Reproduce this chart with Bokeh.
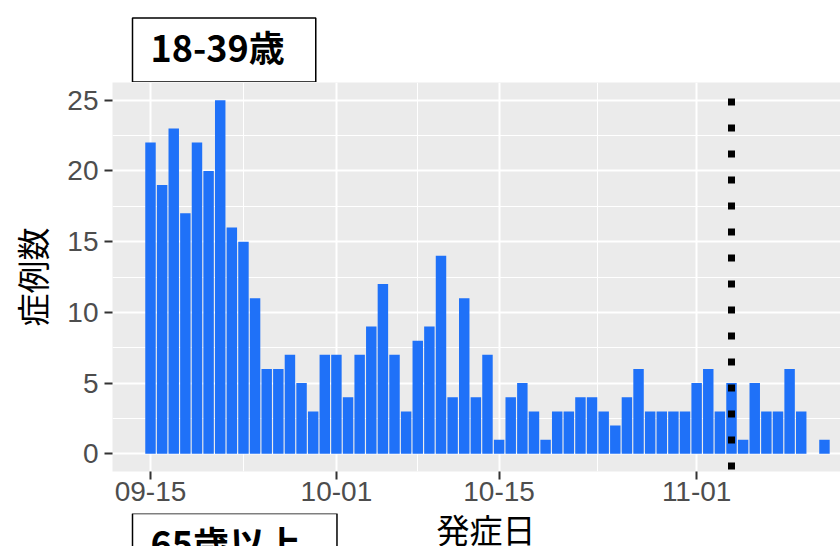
import pandas as pd
from bokeh.plotting import figure
from bokeh.layouts import column
from bokeh.models import Range1d, FixedTicker, DatetimeTickFormatter, Span, Label, ColumnDataSource
from bokeh.embed import file_html
from bokeh.resources import INLINE

# ---- data ----
start_date = "2021-09-15"
counts = [22, 19, 23, 17, 22, 20, 25, 16, 15, 11,
          6, 6, 7, 5, 3, 7, 7, 4, 7, 9,
          12, 7, 3, 8, 9, 14, 4, 11, 4, 7,
          1, 4, 5, 3, 1, 3, 3, 4, 4, 3,
          2, 4, 6, 3, 3, 3, 3, 5, 6, 3,
          5, 1, 5, 3, 3, 6, 3, 0, 1]
dates = pd.date_range(start_date, periods=len(counts), freq="D")
tick_dates = ["2021-09-15", "2021-10-01", "2021-10-15", "2021-11-01"]
tick_labels = ["09-15", "10-01", "10-15", "11-01"]
y_ticks = [0, 5, 10, 15, 20, 25]
vline_date = "2021-11-04"
panel_title = "18-39歳"
next_panel_title = "65歳以上"
x_title = "発症日"
y_title = "症例数"

DAY = 86400000.0
def ms(d):
    return pd.Timestamp(d).value / 1e6

t0 = ms(start_date)
src = ColumnDataSource(dict(x=[ms(d) for d in dates], top=counts))

CJK = "Noto Sans CJK JP"
LAT = "Liberation Sans"
W = 840
FRAME_L = 112
TOP_H, MAIN_H, BOT_H = 82, 431, 33


def strip(h):
    # frame is aligned with the main chart's frame (x from FRAME_L to W, in page pixels)
    f = figure(width=W, height=h, output_backend="svg", toolbar_location=None,
               x_range=Range1d(FRAME_L, W), y_range=Range1d(0, h),
               x_axis_location=None, y_axis_location=None,
               min_border=0, min_border_left=FRAME_L, min_border_right=0,
               min_border_top=0, min_border_bottom=0)
    f.grid.visible = False
    f.outline_line_color = None
    f.background_fill_color = "white"
    f.border_fill_color = "white"
    return f

# ---- top strip: panel title box ----
top = strip(TOP_H)
top.add_layout(Label(x=132, y=TOP_H - 49.5, text=panel_title, text_font=CJK,
                     text_font_size="36px", text_font_style="bold", text_color="black",
                     text_align="left", text_baseline="middle",
                     border_line_color="black", border_line_width=1.5,
                     background_fill_color="white",
                     padding=dict(left=18, right=31, top=2, bottom=10)))

# ---- main chart ----
p = figure(width=W, height=MAIN_H, output_backend="svg", toolbar_location=None,
           x_axis_type="datetime",
           x_range=Range1d(t0 - 3.27 * DAY, t0 + 59.38 * DAY),
           y_range=Range1d(-1.25, 26.25),
           min_border_left=FRAME_L, min_border_right=0, min_border_top=0, min_border_bottom=42)
p.background_fill_color = "#EBEBEB"
p.border_fill_color = "white"
p.outline_line_color = None

p.vbar(x="x", top="top", bottom=0, width=0.9 * DAY, source=src,
       fill_color="#1F71F8", line_color=None)

major_x = [ms(d) for d in tick_dates]
minor_x = [(a + b) / 2 for a, b in zip(major_x[:-1], major_x[1:])]
p.xaxis.ticker = FixedTicker(ticks=major_x, minor_ticks=minor_x)
p.xaxis.major_label_overrides = {m: l for m, l in zip(major_x, tick_labels)}
p.xaxis.formatter = DatetimeTickFormatter(days="%m-%d", months="%m-%d", years="%m-%d")
minor_y = [v + 2.5 for v in y_ticks[:-1]]
p.yaxis.ticker = FixedTicker(ticks=y_ticks, minor_ticks=minor_y)

for ax in (p.xaxis, p.yaxis):
    ax.axis_line_color = None
    ax.major_tick_line_color = "#333333"
    ax.major_tick_line_width = 2
    ax.major_tick_out = 8
    ax.major_tick_in = 0
    ax.minor_tick_line_color = None
    ax.major_label_text_font = LAT
    ax.major_label_text_font_size = "28px"
    ax.major_label_text_color = "#4D4D4D"

p.xaxis.major_label_standoff = 2
p.yaxis.major_label_standoff = 6
p.yaxis.axis_label = y_title
p.yaxis.axis_label_text_font = CJK
p.yaxis.axis_label_text_font_size = "33px"
p.yaxis.axis_label_text_font_style = "normal"
p.yaxis.axis_label_text_color = "black"
p.yaxis.axis_label_standoff = 8

for g in (p.xgrid, p.ygrid):
    g.grid_line_color = "white"
    g.grid_line_width = 2
    g.minor_grid_line_color = "white"
    g.minor_grid_line_width = 1

p.add_layout(Span(location=ms(vline_date), dimension="height", line_color="black",
                  line_width=7, line_dash="7 19", line_dash_offset=10))

# ---- bottom strip: x title and next panel's title box (cut off) ----
bot = strip(BOT_H)
bot.add_layout(Label(x=485.5, y=BOT_H + 9, text=x_title, text_font=CJK,
                     text_font_size="33px", text_color="black",
                     text_align="center", text_baseline="top"))
bot.add_layout(Label(x=132, y=BOT_H - 32, text=next_panel_title, text_font=CJK,
                     text_font_size="36px", text_font_style="bold", text_color="black",
                     text_align="left", text_baseline="middle",
                     border_line_color="black", border_line_width=1.5,
                     background_fill_color="white",
                     padding=dict(left=18, right=36, top=2, bottom=10)))

layout = column(top, p, bot, spacing=0)
open("out.html", "w").write(file_html(layout, INLINE))
